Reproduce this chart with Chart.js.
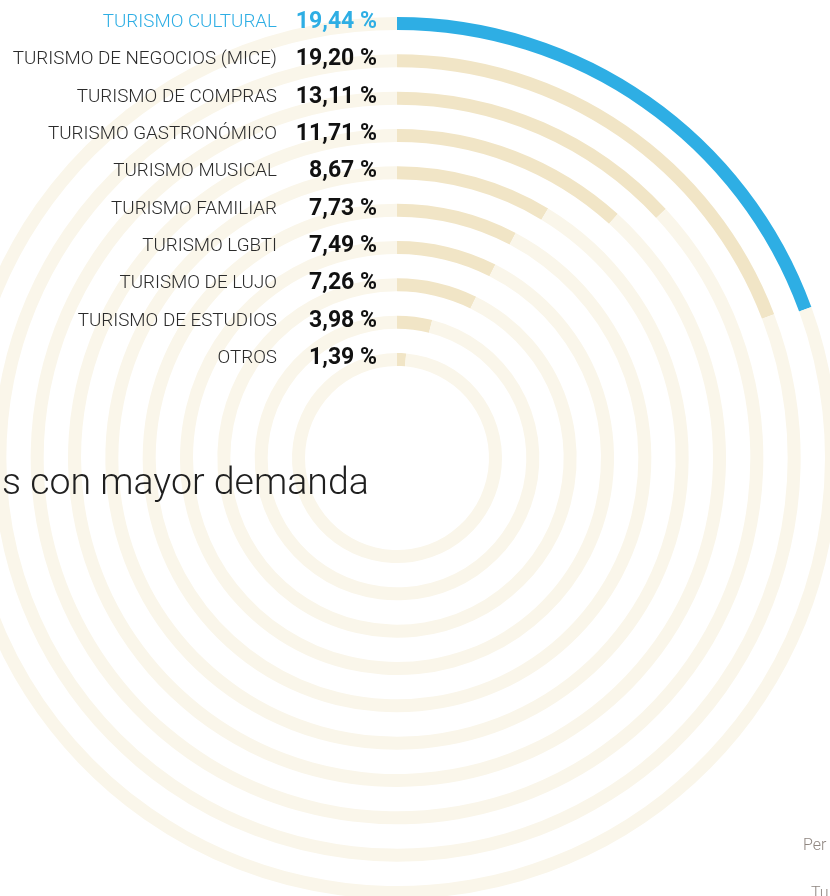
<!DOCTYPE html>
<html lang="es">
<head>
<meta charset="utf-8">
<title>Tipos de turismo con mayor demanda</title>
<script src="https://cdn.jsdelivr.net/npm/chart.js@4.4.1/dist/chart.umd.min.js"></script>
<style>
    html, body {
        margin: 0;
        padding: 0;
        width: 830px;
        height: 896px;
        overflow: hidden;
        background: #fff;
        position: relative;
        font-family: Roboto, "Noto Sans", sans-serif;
    }
    #chart-wrap {
        position: absolute;
        left: -44px;
        top: 0;
        width: 882px;
        height: 900px;
    }
    .title {
        position: absolute;
        left: 2px;
        top: 463px;
        font-size: 37.5px;
        font-weight: 300;
        line-height: 1;
        color: #1f1f1f;
        white-space: nowrap;
    }
    .note {
        position: absolute;
        font-size: 16px;
        font-weight: 300;
        line-height: 1;
        color: #8f8680;
        white-space: nowrap;
    }
</style>
</head>
<body>
<div id="chart-wrap"><canvas id="rings" width="882" height="900"></canvas></div>
<div class="title">s con mayor demanda</div>
<div class="note" style="left:803px; top:837px;">Per</div>
<div class="note" style="left:811px; top:885px;">Tu</div>

<script>
// --- Data ---
const categories = [
    'TURISMO CULTURAL',
    'TURISMO DE NEGOCIOS (MICE)',
    'TURISMO DE COMPRAS',
    'TURISMO GASTRONÓMICO',
    'TURISMO MUSICAL',
    'TURISMO FAMILIAR',
    'TURISMO LGBTI',
    'TURISMO DE LUJO',
    'TURISMO DE ESTUDIOS',
    'OTROS'
];
const shares = [19.44, 19.20, 13.11, 11.71, 8.67, 7.73, 7.49, 7.26, 3.98, 1.39];
const scaleMax = 100; // a full turn = 100 %

// --- Colours ---
const BLUE = '#2eaee4';
const BEIGE = '#f1e5c6';
const TRACK = '#faf6ea';

// ring thickness vs. white gap between rings (doughnut weights)
const RING_WEIGHT = 13;
const GAP_WEIGHT = 24.3;

const formatShare = v => v.toFixed(2).replace('.', ',') + ' %';

// one dataset per ring, transparent spacer datasets in between
const datasets = [];
shares.forEach((v, i) => {
    if (i > 0) {
        datasets.push({
            data: [1],
            backgroundColor: ['rgba(0,0,0,0)'],
            borderWidth: 0,
            weight: GAP_WEIGHT,
            spacer: true
        });
    }
    datasets.push({
        label: categories[i],
        data: [v, scaleMax - v],
        backgroundColor: [i === 0 ? BLUE : BEIGE, TRACK],
        borderWidth: 0,
        weight: RING_WEIGHT,
        row: i
    });
});

// Labels to the left of each ring start
const ringLabels = {
    id: 'ringLabels',
    afterDatasetsDraw(chart) {
        const ctx = chart.ctx;
        ctx.save();
        ctx.textAlign = 'right';
        ctx.textBaseline = 'alphabetic';
        chart.data.datasets.forEach((ds, di) => {
            if (ds.spacer) return;
            const arc = chart.getDatasetMeta(di).data[0];
            const ringY = arc.y - (arc.innerRadius + arc.outerRadius) / 2;
            const isFirst = ds.row === 0;

            ctx.font = '300 18.8px Roboto';
            ctx.fillStyle = isFirst ? BLUE : '#2b2b2b';
            ctx.fillText(categories[ds.row], arc.x - 120, ringY + 3.5);

            ctx.font = '700 23px Roboto';
            ctx.fillStyle = isFirst ? BLUE : '#111111';
            ctx.fillText(formatShare(shares[ds.row]), arc.x - 20, ringY + 4.5);
        });
        ctx.restore();
    }
};

new Chart(document.getElementById('rings'), {
    type: 'doughnut',
    data: {
        labels: ['valor', 'resto'],
        datasets: datasets
    },
    options: {
        responsive: false,
        animation: false,
        events: [],
        cutout: 92,
        rotation: 0,
        layout: {
            padding: { top: 17, bottom: 1, left: 0, right: 0 }
        },
        plugins: {
            legend: { display: false },
            tooltip: { enabled: false }
        }
    },
    plugins: [ringLabels]
});
</script>
</body>
</html>
